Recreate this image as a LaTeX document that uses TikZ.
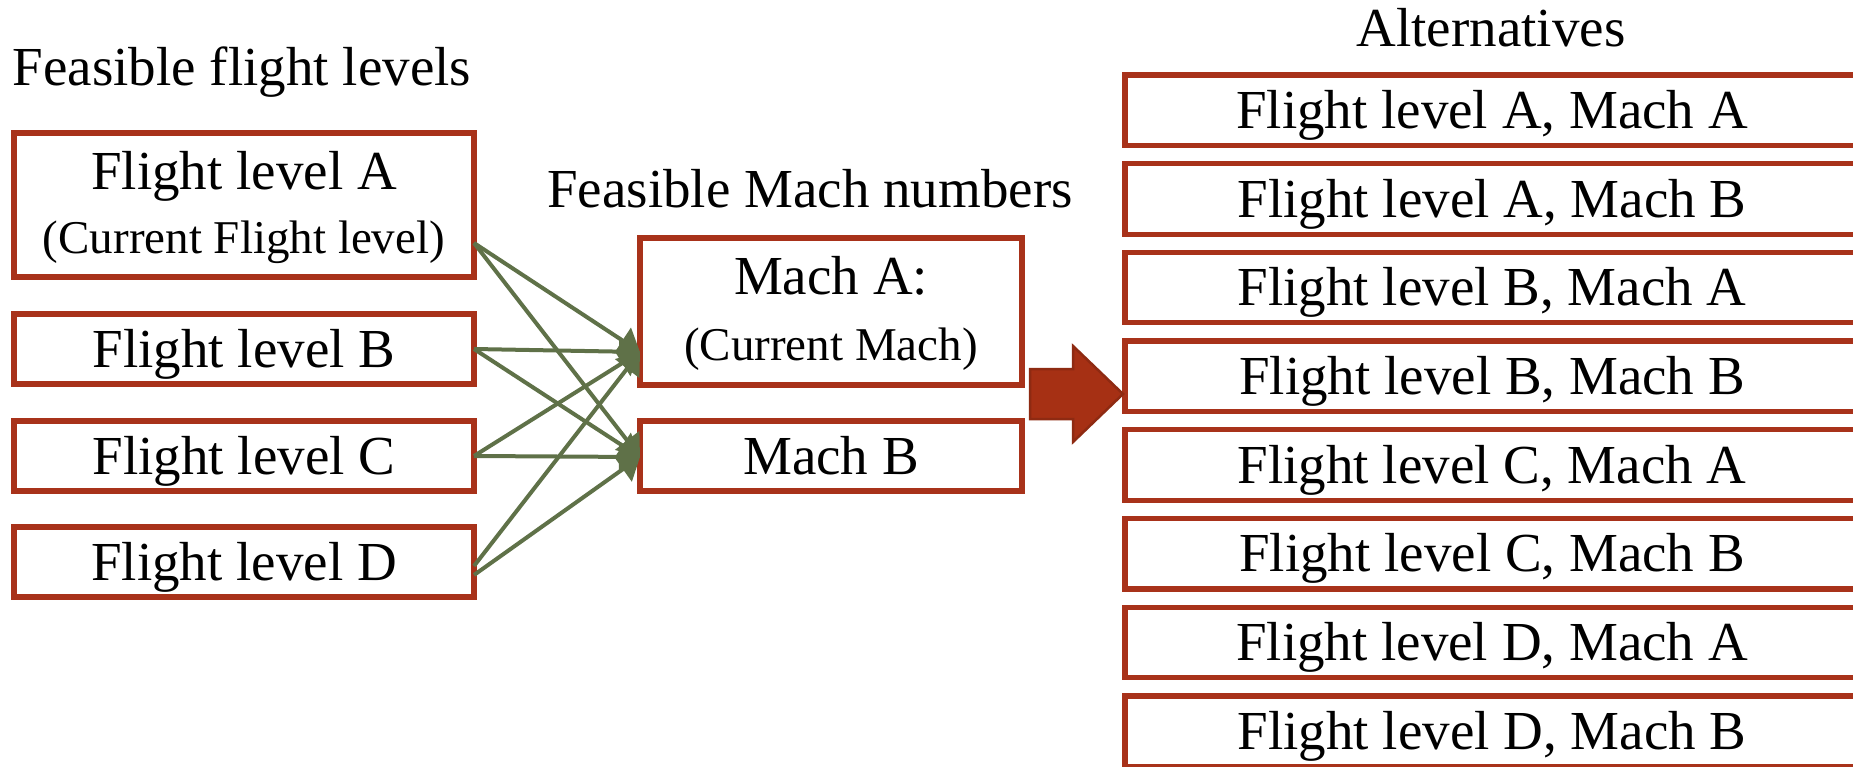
\documentclass[tikz,border=0pt]{standalone}
\usepackage{fontspec}
\setmainfont{Liberation Serif}
\usetikzlibrary{arrows.meta}
\definecolor{rust}{HTML}{A8321A}
\definecolor{rustdark}{HTML}{8E2A12}
\definecolor{arrowfill}{HTML}{A63014}
\definecolor{olive}{HTML}{5F7148}

\begin{document}
\begin{tikzpicture}[x=1pt,y=-1pt,
  every node/.style={font=\fontsize{55}{66}\selectfont, inner sep=0pt, outer sep=0pt},
  smalltext/.style={font=\fontsize{47}{56}\selectfont},
  cellbox/.style={draw=rust, line width=5.2pt, fill=white,
    text height=36.4pt, text depth=0pt, minimum height=70pt},
  levelbox/.style={cellbox, minimum width=460pt},
  machbox/.style={cellbox, minimum width=382pt},
  altbox/.style={cellbox, minimum width=734pt, minimum height=70.5pt},
  conn/.style={draw=olive, line width=4pt, -{Triangle[length=21pt,width=30pt]}},
  bigarrow/.style={fill=arrowfill, draw=rustdark, line width=2.5pt, line join=miter}
]
\clip (0,0) rectangle (1853,767);

% column titles
\node[anchor=base] (tLevels) at (242,86) {Feasible flight levels};
\node[anchor=base] (tMach) at (810,208) {Feasible Mach numbers};
\node[anchor=base] (tAlt) at (1491,47) {Alternatives};

% feasible flight levels
\node[levelbox, minimum height=144pt] (flA) at (244,205) {};
\node[anchor=base] (flAtop) at (244,190) {Flight level A};
\node[anchor=base, smalltext] (flAbot) at (244,254) {(Current Flight level)};
\node[levelbox] (flB) at (244,349) {Flight level B};
\node[levelbox] (flC) at (244,456) {Flight level C};
\node[levelbox] (flD) at (244,562) {Flight level D};

% feasible Mach numbers
\node[machbox, minimum height=147pt] (mA) at (831,311.5) {};
\node[anchor=base] (mAtop) at (831,295) {Mach A:};
\node[anchor=base, smalltext] (mAbot) at (831,360) {(Current Mach)};
\node[machbox] (mB) at (831,456) {Mach B};

% alternatives
\foreach \lvl/\mach [count=\i from 0] in {A/A,A/B,B/A,B/B,C/A,C/B,D/A,D/B}{
  \node[altbox] (alt\i) at (1492,110.25+88.7*\i) {Flight level \lvl, Mach \mach};
}

% connector end points
\coordinate (srcA) at ([yshift=-38pt]flA.east);
\coordinate (srcB) at (flB.east);
\coordinate (srcC) at (flC.east);
\coordinate (srcDa) at ([yshift=-4pt]flD.east);
\coordinate (srcDb) at ([yshift=-13pt]flD.east);
\coordinate (inA) at ([yshift=-40.5pt]mA.west);
\coordinate (inB) at ([yshift=-1pt]mB.west);

% every flight level paired with every Mach number
\draw[conn] (srcA) -- (inA);
\draw[conn] (srcA) -- (inB);
\draw[conn] (srcB) -- (inA);
\draw[conn] (srcB) -- (inB);
\draw[conn] (srcC) -- (inA);
\draw[conn] (srcC) -- (inB);
\draw[conn] (srcDa) -- (inA);
\draw[conn] (srcDb) -- (inB);

% block arrow towards the alternatives
\draw[bigarrow] (1030,369) -- (1073,369) -- (1073,346) -- (1123,394)
  -- (1073,442) -- (1073,419) -- (1030,419) -- cycle;
\end{tikzpicture}
\end{document}
